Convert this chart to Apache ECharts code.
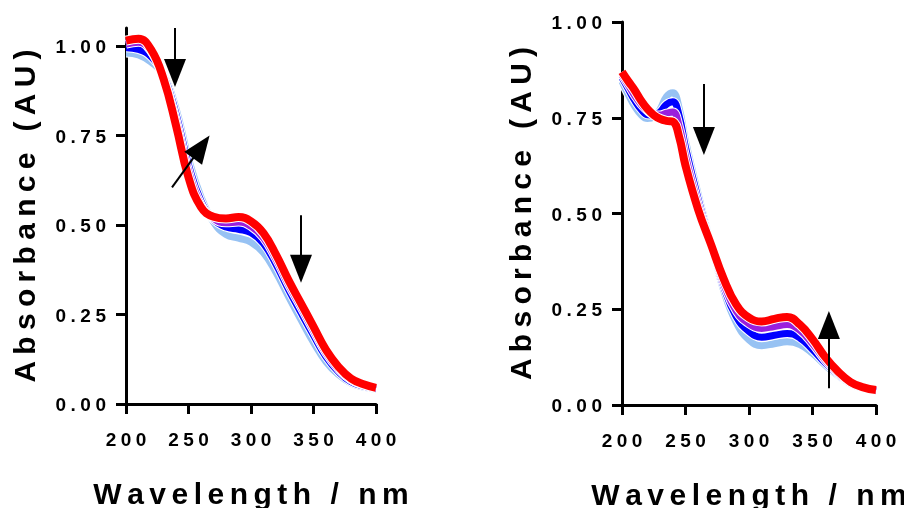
<!DOCTYPE html>
<html><head><meta charset="utf-8">
<script src="https://cdn.jsdelivr.net/npm/echarts@6/dist/echarts.min.js"></script>
<style>html,body{margin:0;padding:0;background:#fff}#c{width:904px;height:508px}</style>
</head><body><div id="c"></div>
<script>
// ---------- data ----------
const wlLeft = [200,210,220,230,240,250,260,270,280,290,300,310,320,330,340,350,360,370,380,390,400];
const leftLightBlue = [0.980,0.975,0.955,0.920,0.825,0.685,0.578,0.508,0.473,0.463,0.452,0.422,0.367,0.300,0.235,0.172,0.118,0.082,0.058,0.047,0.041];
const leftBlue      = [0.995,0.990,0.970,0.918,0.810,0.668,0.566,0.515,0.494,0.488,0.478,0.448,0.390,0.320,0.255,0.192,0.132,0.090,0.062,0.050,0.043];
const leftPurple    = [1.005,1.010,0.985,0.913,0.795,0.652,0.557,0.518,0.506,0.508,0.496,0.464,0.405,0.334,0.270,0.205,0.142,0.097,0.067,0.053,0.044];
const leftRed       = [1.015,1.020,0.990,0.908,0.778,0.633,0.550,0.523,0.518,0.522,0.510,0.477,0.417,0.346,0.281,0.216,0.151,0.104,0.071,0.055,0.045];

const wlRight = [200,205,210,215,220,225,230,235,240,245,250,260,270,280,290,300,310,320,330,340,350,360,370,380,390,400];
const rightLightBlue = [0.845,0.810,0.780,0.758,0.748,0.752,0.772,0.805,0.815,0.775,0.690,0.550,0.422,0.300,0.215,0.170,0.155,0.160,0.165,0.158,0.135,0.104,0.077,0.055,0.043,0.037];
const rightBlue      = [0.855,0.825,0.795,0.772,0.758,0.757,0.765,0.785,0.792,0.755,0.672,0.537,0.421,0.310,0.230,0.192,0.177,0.182,0.187,0.175,0.145,0.110,0.080,0.056,0.044,0.037];
const rightPurple    = [0.862,0.835,0.808,0.785,0.768,0.758,0.757,0.762,0.765,0.728,0.650,0.524,0.420,0.318,0.245,0.212,0.200,0.205,0.210,0.195,0.160,0.117,0.083,0.058,0.045,0.038];
const rightRed       = [0.870,0.845,0.822,0.795,0.773,0.757,0.747,0.742,0.740,0.700,0.625,0.510,0.420,0.330,0.262,0.228,0.218,0.225,0.230,0.210,0.172,0.125,0.088,0.060,0.046,0.039];

const xTicks = [200,250,300,350,400];
const yTicks = [0,0.25,0.5,0.75,1];
const xTitle = 'Wavelength / nm';
const yTitle = 'Absorbance (AU)';

// arrows: [tail, head-centre] in data units
const arrowsLeft  = [[[239.2,1.05],[239.2,0.924]], [[236.8,0.605],[260.3,0.718]], [[340,0.527],[340,0.378]]];
const arrowsRight = [[[264.5,0.838],[264.5,0.689]], [[362.9,0.044],[362.9,0.209]]];

// ---------- chart ----------
const FONT = 'Liberation Sans, Arial, sans-serif';
const colors = {lightBlue:'#97c2f3', blue:'#0000ff', purple:'#9a1fdc', red:'#ff0000'};

function spaced(str){ return str.split('').join('{g| }'); }

function lines(idx, wl, vals, color, width){
  const data = wl.map((w,i)=>[w, vals[i]]);
  const base = {type:'line', xAxisIndex:idx, yAxisIndex:idx, data, smooth:0.45, symbol:'none', silent:true, animation:false};
  return [
    Object.assign({}, base, {lineStyle:{color:'#fff', width:width+2}}),
    Object.assign({}, base, {lineStyle:{color, width}})
  ];
}

function arrowSeries(idx, arrows){
  return {type:'line', xAxisIndex:idx, yAxisIndex:idx, data:[], clip:false, silent:true, animation:false,
    markLine:{silent:true, animation:false, symbol:['none','triangle'], symbolSize:[22,28],
      label:{show:false}, lineStyle:{color:'#000', width:2, type:'solid'}, emphasis:{disabled:true},
      data: arrows.map(a=>[{coord:a[0]},{coord:a[1]}])}};
}

const labelStyle = {color:'#000', fontSize:19, fontWeight:'bold', fontFamily:FONT, rich:{g:{width:4.5}}};

function xAxis(idx){
  return {gridIndex:idx, type:'value', min:200, max:400, interval:50,
    axisLine:{lineStyle:{color:'#000', width:3}},
    axisTick:{length:10, lineStyle:{color:'#000', width:3}, customValues:xTicks},
    axisLabel:Object.assign({margin:27, customValues:xTicks, formatter:v=>spaced(String(v))}, labelStyle),
    splitLine:{show:false},
    name: spaced(xTitle), nameLocation:'middle', nameGap:77,
    nameTextStyle:{color:'#000', fontSize:30, fontWeight:'bold', fontFamily:FONT, rich:{g:{width:5.5}}}};
}
function yAxis(idx, max){
  return {gridIndex:idx, type:'value', min:0, max, interval:0.25,
    axisLine:{show:true, lineStyle:{color:'#000', width:3}},
    axisTick:{show:true, length:10, lineStyle:{color:'#000', width:3}, customValues:yTicks},
    axisLabel:Object.assign({margin:20, padding:[4,0,0,0], customValues:yTicks, formatter:v=>spaced(v.toFixed(2))}, labelStyle),
    splitLine:{show:false},
    name: spaced(yTitle), nameLocation:'middle', nameGap:84,
    nameTextStyle:{color:'#000', fontSize:30, fontWeight:'bold', fontFamily:FONT, rich:{g:{width:6.3}}}};
}

const series = [].concat(
  lines(0, wlLeft, leftLightBlue, colors.lightBlue, 7),
  lines(0, wlLeft, leftBlue, colors.blue, 7),
  lines(0, wlLeft, leftPurple, colors.purple, 7),
  lines(0, wlLeft, leftRed, colors.red, 8),
  lines(1, wlRight, rightLightBlue, colors.lightBlue, 7),
  lines(1, wlRight, rightBlue, colors.blue, 7),
  lines(1, wlRight, rightPurple, colors.purple, 7),
  lines(1, wlRight, rightRed, colors.red, 8),
  [arrowSeries(0, arrowsLeft), arrowSeries(1, arrowsRight)]
);

const chart = echarts.init(document.getElementById('c'), null, {renderer:'canvas'});
chart.setOption({
  animation:false,
  backgroundColor:'#fff',
  grid:[{left:126, top:28, width:250, height:376, outerBoundsMode:'none', containLabel:false},
        {left:622, top:22, width:254, height:383, outerBoundsMode:'none', containLabel:false}],
  xAxis:[xAxis(0), xAxis(1)],
  yAxis:[yAxis(0, 1.05), yAxis(1, 1.0)],
  series
});
</script></body></html>
